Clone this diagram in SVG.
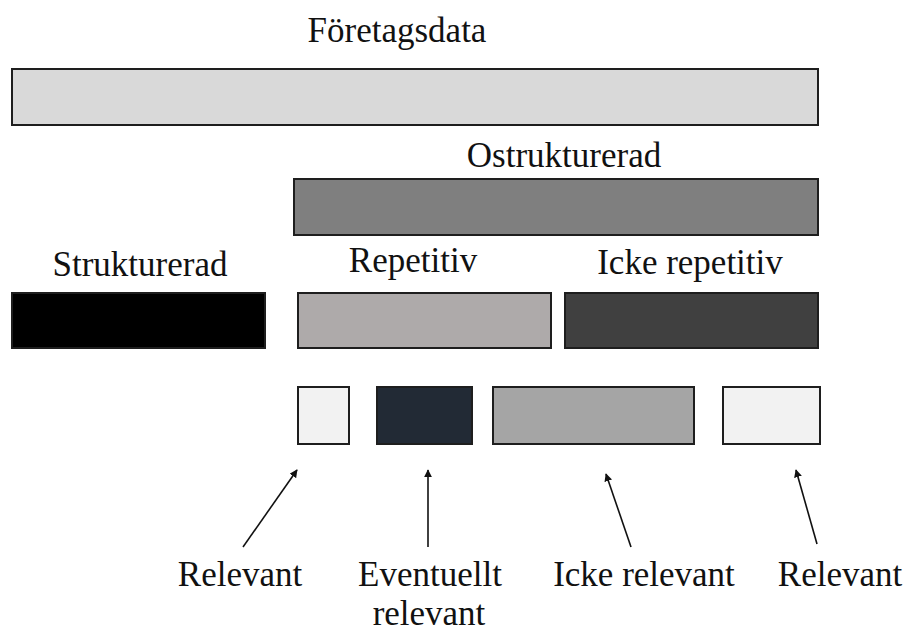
<svg xmlns="http://www.w3.org/2000/svg" width="908" height="632" viewBox="0 0 908 632">
<style>
.lbl{font-family:"Liberation Serif","Times New Roman",serif;font-size:35px;fill:#111;text-anchor:middle}
.box{stroke:#1e1e1e;stroke-width:2}
.arr{stroke:#111;stroke-width:1.6;fill:none;marker-end:url(#ah)}
</style>
<defs>
<marker id="ah" viewBox="0 0 10 10" refX="9" refY="5" markerWidth="8" markerHeight="8" markerUnits="userSpaceOnUse" orient="auto">
<path d="M0,0 L10,5 L0,10 z" fill="#111"/>
</marker>
</defs>
<rect width="908" height="632" fill="#fff"/>
<g id="foretagsdata">
<text class="lbl" x="397" y="42">Företagsdata</text>
<rect class="box" x="12" y="69" width="806" height="56" fill="#d9d9d9"/>
</g>
<g id="ostrukturerad">
<text class="lbl" x="564" y="167">Ostrukturerad</text>
<rect class="box" x="294" y="179" width="524" height="56" fill="#7f7f7f"/>
</g>
<g id="strukturerad">
<text class="lbl" x="140" y="276">Strukturerad</text>
<rect class="box" x="12" y="293" width="253" height="55" fill="#000"/>
</g>
<g id="repetitiv">
<text class="lbl" x="413" y="272">Repetitiv</text>
<rect class="box" x="298" y="293" width="253" height="55" fill="#aeaaaa"/>
</g>
<g id="icke-repetitiv">
<text class="lbl" x="690" y="274">Icke repetitiv</text>
<rect class="box" x="565" y="293" width="253" height="55" fill="#404040"/>
</g>
<g id="relevant-1">
<rect class="box" x="298" y="387" width="51" height="57" fill="#f2f2f2"/>
<text class="lbl" x="240" y="586">Relevant</text>
</g>
<g id="eventuellt-relevant">
<rect class="box" x="377" y="387" width="95" height="57" fill="#222a35"/>
<text class="lbl" x="430" y="586">Eventuellt</text>
<text class="lbl" x="429" y="625">relevant</text>
</g>
<g id="icke-relevant">
<rect class="box" x="493" y="387" width="201" height="57" fill="#a5a5a5"/>
<text class="lbl" x="644" y="586">Icke relevant</text>
</g>
<g id="relevant-2">
<rect class="box" x="723" y="387" width="97" height="57" fill="#f2f2f2"/>
<text class="lbl" x="840" y="586">Relevant</text>
</g>
<g id="connectors">
<line class="arr" x1="243" y1="547" x2="297" y2="470"/>
<line class="arr" x1="428" y1="547" x2="428" y2="470"/>
<line class="arr" x1="631" y1="547" x2="606" y2="474"/>
<line class="arr" x1="817" y1="544" x2="796" y2="470"/>
</g>
</svg>
